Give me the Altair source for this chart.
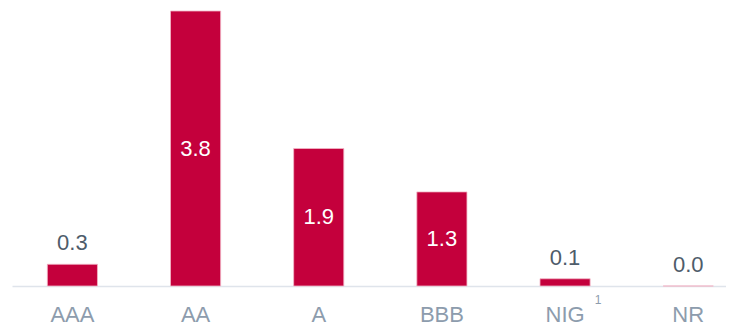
import altair as alt
import pandas as pd

categories = ["AAA", "AA", "A", "BBB", "NIG", "NR"]
values = [0.3, 3.8, 1.9, 1.3, 0.1, 0.0]
footnote_category = "NIG"
footnote_text = "1"

df = pd.DataFrame({"cat": categories, "value": values})
df["label"] = [f"{v:.1f}" for v in values]

BAR = "#C4003C"
FONT = "Liberation Sans, Arial, sans-serif"

x = alt.X("cat:N", sort=categories,
          scale=alt.Scale(paddingInner=0.593, paddingOuter=0.195, align=0.7356),
          axis=alt.Axis(title=None, labelAngle=0, ticks=False, domainColor="#dfe4eb",
                        domainWidth=1.5, labelColor="#8d9cad", labelFontSize=22,
                        labelFont=FONT, labelPadding=18, grid=False))
y = alt.Y("value:Q", scale=alt.Scale(domain=[0, 3.8], nice=False, zero=True), axis=None)

base = alt.Chart(df)

bars = base.mark_bar(color=BAR, stroke="#f2b6c6", strokeWidth=0.8).encode(x=x, y=y)

inside = base.transform_filter("datum.value >= 1").transform_calculate(
    mid="datum.value / 2").mark_text(
    color="white", fontSize=22, font=FONT, baseline="middle").encode(
    x=x, y=alt.Y("mid:Q", scale=alt.Scale(domain=[0, 3.8], nice=False), axis=None),
    text="label:N")

outside = base.transform_filter("datum.value < 1").mark_text(
    color="#4e5c6a", fontSize=22, font=FONT, baseline="middle", dy=-21).encode(
    x=x, y=y, text="label:N")

foot = alt.Chart(pd.DataFrame({"cat": [footnote_category], "t": [footnote_text]})).mark_text(
    color="#8d9cad", fontSize=12, font=FONT, dx=33, baseline="middle").encode(
    x=x, y=alt.value(289), text="t:N")

chart = alt.layer(bars, inside, outside, foot).properties(
    width=714, height=275,
    autosize=alt.AutoSizeParams(type="none"),
    padding={"left": 4, "top": 3, "right": 0, "bottom": 40},
    background="white",
).configure_view(stroke=None)

chart.save("out.html", embed_options={"renderer": "svg", "actions": False})
